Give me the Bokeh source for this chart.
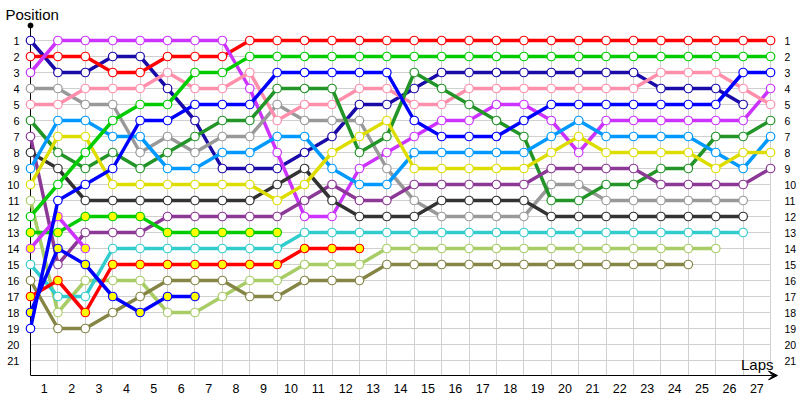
from bokeh.plotting import figure
from bokeh.models import (Range1d, FixedTicker, LinearAxis, Grid, Label, Arrow,
                          VeeHead, ColumnDataSource)
from bokeh.embed import file_html
from bokeh.resources import INLINE

# ---------------- data ----------------
lap_labels = [str(k) for k in range(1, 28)]
position_ticks = list(range(1, 22))
lap_points = list(range(0, 28))

red = [2, 2, 2, 3, 3, 2, 2, 2, 1, 1, 1, 1, 1, 1, 1, 1, 1, 1, 1, 1, 1, 1, 1, 1, 1, 1, 1, 1]
green = [12, 10, 8, 6, 5, 5, 3, 3, 2, 2, 2, 2, 2, 2, 2, 2, 2, 2, 2, 2, 2, 2, 2, 2, 2, 2, 2, 2]
violet = [3, 1, 1, 1, 1, 1, 1, 1, 4, 8, 12, 12, 9, 8, 7, 6, 6, 5, 5, 6, 8, 6, 6, 6, 6, 6, 6, 4]
navy = [1, 3, 3, 2, 2, 4, 6, 9, 9, 9, 8, 7, 5, 5, 4, 3, 3, 3, 3, 3, 3, 3, 3, 4, 4, 4, 5]
blue = [19, 11, 10, 9, 6, 6, 5, 5, 5, 3, 3, 3, 3, 3, 6, 7, 7, 7, 6, 5, 5, 5, 5, 5, 5, 5, 3, 3]
pink = [5, 5, 4, 4, 4, 3, 4, 4, 3, 6, 5, 5, 4, 4, 5, 5, 4, 4, 4, 4, 4, 4, 4, 3, 3, 3, 4, 5]
gray = [4, 4, 5, 5, 8, 7, 8, 7, 7, 5, 6, 6, 6, 9, 11, 12, 12, 12, 12, 10, 10, 11, 11, 11, 11, 11, 11]
dark_green = [6, 8, 9, 8, 9, 8, 7, 6, 6, 4, 4, 4, 8, 7, 3, 4, 5, 6, 7, 11, 11, 10, 10, 9, 9, 7, 7, 6]
light_blue = [9, 6, 6, 7, 7, 9, 9, 8, 8, 7, 7, 9, 10, 10, 8, 8, 8, 8, 8, 7, 6, 7, 7, 7, 7, 8, 9, 7]
yellow = [10, 7, 7, 10, 10, 10, 10, 10, 10, 11, 10, 8, 7, 6, 9, 9, 9, 9, 9, 8, 7, 8, 8, 8, 8, 9, 8, 8]
dark_purple = [7, 15, 13, 13, 13, 12, 12, 12, 12, 12, 11, 10, 11, 11, 10, 10, 10, 10, 10, 9, 9, 9, 9, 10, 10, 10, 10, 9]
black = [8, 9, 11, 11, 11, 11, 11, 11, 11, 10, 9, 11, 12, 12, 12, 11, 11, 11, 11, 12, 12, 12, 12, 12, 12, 12, 12]
light_green = [11, 18, 16, 16, 16, 18, 18, 17, 16, 16, 15, 15, 15, 14, 14, 14, 14, 14, 14, 14, 14, 14, 14, 14, 14, 14]
teal = [15, 17, 17, 14, 14, 14, 14, 14, 14, 14, 13, 13, 13, 13, 13, 13, 13, 13, 13, 13, 13, 13, 13, 13, 13, 13, 13]
olive = [16, 19, 19, 18, 17, 16, 16, 16, 17, 17, 16, 16, 16, 15, 15, 15, 15, 15, 15, 15, 15, 15, 15, 15, 15]
green_b = [13, 13, 12, 12, 12, 13, 13, 13, 13, 13]
violet_b = [14, 12, 14]
red_b = [17, 16, 18, 15, 15, 15, 15, 15, 15, 15, 14, 14, 14]
blue_b = [18, 14, 15, 17, 18, 17, 17]

WHITE = "white"
PIT = "#ffff00"
series = [
    (navy, "#1a0aa8", WHITE),
    (red, "#ff0000", WHITE),
    (violet, "#cc33ff", WHITE),
    (gray, "#999999", WHITE),
    (pink, "#ff8fab", WHITE),
    (dark_green, "#229428", WHITE),
    (dark_purple, "#8c3896", WHITE),
    (black, "#333333", WHITE),
    (light_blue, "#0099ff", WHITE),
    (yellow, "#dddd00", WHITE),
    (light_green, "#a8cc66", WHITE),
    (green, "#00cc00", WHITE),
    (green_b, "#00cc00", PIT),
    (violet_b, "#cc33ff", PIT),
    (teal, "#33cccc", WHITE),
    (olive, "#858545", WHITE),
    (red_b, "#ff0000", PIT),
    (blue_b, "#0000ff", PIT),
    (blue, "#0000ff", WHITE),
]

# ---------------- layout ----------------
W, H = 800, 400
FL, FR, FT, FB = 30, 778, 22, 380          # frame edges in canvas px
PX_LAP = 27.41
PX_POS = 16.0
P1_Y = 40                                   # canvas y of position 1
AXIS_Y = 375                                # canvas y of the lap axis line
x_end = (FR - FL) / PX_LAP
y_bottom = 1 + (FB - P1_Y) / PX_POS
y_top = 1 + (FT - P1_Y) / PX_POS
y_axis_top = 1 + (25 - P1_Y) / PX_POS
y_axis_bottom = 1 + (AXIS_Y - P1_Y) / PX_POS

p = figure(width=W, height=H, output_backend="svg", toolbar_location=None,
           x_range=Range1d(0, x_end), y_range=Range1d(y_bottom, y_top),
           x_axis_type=None, y_axis_type=None, title="Position",
           min_border_left=FL, min_border_right=W - FR,
           min_border_top=FT, min_border_bottom=H - FB)
p.outline_line_color = None
p.background_fill_color = "white"
p.border_fill_color = "white"

FONT = "Liberation Sans"

p.title.align = "left"
p.title.offset = -25
p.title.standoff = 0
p.title.text_font = FONT
p.title.text_font_size = "15px"
p.title.text_font_style = "normal"
p.title.text_color = "black"

left = LinearAxis(ticker=FixedTicker(ticks=position_ticks), bounds=(y_axis_top, y_axis_bottom))
left.axis_line_color = "black"
left.axis_line_width = 1
left.major_tick_in = 0
left.major_tick_out = 0
left.minor_tick_line_color = None
left.major_label_standoff = 11
left.major_label_text_font = FONT
left.major_label_text_font_size = "11px"
left.major_label_text_color = "#000000"
p.add_layout(left, "left")

right = LinearAxis(ticker=FixedTicker(ticks=position_ticks))
right.axis_line_color = None
right.major_tick_line_color = None
right.minor_tick_line_color = None
right.major_label_standoff = 0
right.major_label_text_font = FONT
right.major_label_text_font_size = "10.5px"
right.major_label_text_color = "#000000"
p.add_layout(right, "right")

label_pos = [k - 0.5 for k in range(1, len(lap_labels) + 1)]
bottom = LinearAxis(ticker=FixedTicker(ticks=label_pos),
                    major_label_overrides={t: s for t, s in zip(label_pos, lap_labels)})
bottom.axis_line_color = None
bottom.major_tick_line_color = None
bottom.minor_tick_line_color = None
bottom.major_label_standoff = -3
bottom.major_label_text_font = FONT
bottom.major_label_text_font_size = "12.5px"
bottom.major_label_text_color = "#000000"
p.add_layout(bottom, "below")

ygrid = Grid(dimension=1, ticker=FixedTicker(ticks=position_ticks),
             grid_line_color="#d0d0d0", grid_line_width=1,
             cross_bounds=(0, lap_points[-1]))
xgrid = Grid(dimension=0, ticker=FixedTicker(ticks=lap_points),
             grid_line_color="#d0d0d0", grid_line_width=1,
             cross_bounds=(position_ticks[0], y_axis_bottom))
p.add_layout(ygrid)
p.add_layout(xgrid)

# lap axis line with arrow head
p.add_layout(Arrow(end=VeeHead(size=9, fill_color="black", line_color="black", line_width=1),
                   x_start=0, y_start=y_axis_bottom,
                   x_end=(777 - FL) / PX_LAP, y_end=y_axis_bottom,
                   line_color="black", line_width=1))

for vals, color, fill in series:
    src = ColumnDataSource(dict(lap=list(range(len(vals))), pos=vals))
    p.line("lap", "pos", source=src, line_color=color, line_width=3.5, level="overlay")
    p.scatter("lap", "pos", source=src, marker="circle", size=8.5, fill_color=fill,
              line_color=color, line_width=1.2, level="overlay")

# dot at the top of the position axis
p.scatter([0], [y_axis_top], marker="circle", size=5,
          fill_color="black", line_color="black", level="overlay")

p.add_layout(Label(x=(773 - FL) / PX_LAP, y=1 + (364 - P1_Y) / PX_POS, text="Laps",
                   text_font=FONT, text_font_size="15px", text_color="black",
                   text_align="right", text_baseline="middle"))

open("out.html", "w").write(file_html(p, INLINE))
